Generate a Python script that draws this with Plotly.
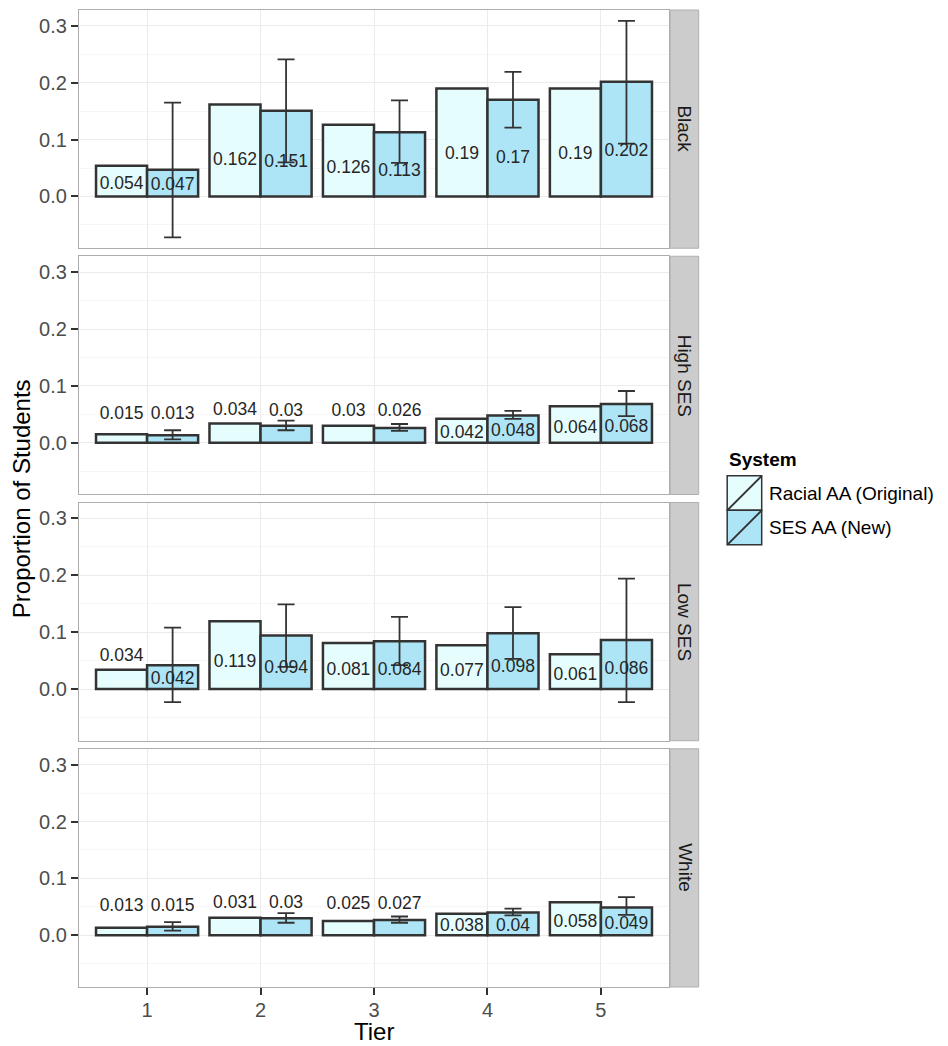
import plotly.graph_objects as go
from plotly.subplots import make_subplots

# ---------------- data ----------------
tiers = [1, 2, 3, 4, 5]
tier_labels = ["1", "2", "3", "4", "5"]
groups = ["Black", "High SES", "Low SES", "White"]
systems = ["Racial AA (Original)", "SES AA (New)"]

racial_black = [0.054, 0.162, 0.126, 0.19, 0.19]
racial_high = [0.015, 0.034, 0.03, 0.042, 0.064]
racial_low = [0.034, 0.119, 0.081, 0.077, 0.061]
racial_white = [0.013, 0.031, 0.025, 0.038, 0.058]

ses_black = [0.047, 0.151, 0.113, 0.17, 0.202]
ses_high = [0.013, 0.03, 0.026, 0.048, 0.068]
ses_low = [0.042, 0.094, 0.084, 0.098, 0.086]
ses_white = [0.015, 0.03, 0.027, 0.04, 0.049]

ses_lower_black = [-0.072, 0.060, 0.059, 0.121, 0.093]
ses_upper_black = [0.165, 0.241, 0.169, 0.219, 0.309]
ses_lower_high = [0.006, 0.022, 0.021, 0.042, 0.047]
ses_upper_high = [0.022, 0.039, 0.033, 0.056, 0.091]
ses_lower_low = [-0.023, 0.039, 0.042, 0.053, -0.023]
ses_upper_low = [0.108, 0.149, 0.127, 0.144, 0.194]
ses_lower_white = [0.008, 0.022, 0.022, 0.035, 0.036]
ses_upper_white = [0.023, 0.039, 0.033, 0.047, 0.067]

y_ticks = [0.0, 0.1, 0.2, 0.3]
y_tick_labels = ["0.0", "0.1", "0.2", "0.3"]

racial_by_group = [racial_black, racial_high, racial_low, racial_white]
ses_by_group = [ses_black, ses_high, ses_low, ses_white]
lower_by_group = [ses_lower_black, ses_lower_high, ses_lower_low, ses_lower_white]
upper_by_group = [ses_upper_black, ses_upper_high, ses_upper_low, ses_upper_white]

# ---------------- style ----------------
FONT = "Liberation Sans, Arial, Helvetica, sans-serif"
RACIAL_FILL = "#E6FDFE"
SES_FILL = "#AEE5F6"
OUTLINE = "#333333"
OFF = 8                      # page body margin
W, H = 940, 1038             # figure size so that it reaches the window edge
PLOT_L, PLOT_R, PLOT_T, PLOT_B = 79.3, 669.3, 10, 987.3   # page pixels
ML = PLOT_L - OFF
MR = W - (PLOT_R - OFF)
MT = PLOT_T - OFF
MB = H - (PLOT_B - OFF)
PW = PLOT_R - PLOT_L
PH = PLOT_B - PLOT_T
PANEL_H = 238.3
GAP = (PH - 4 * PANEL_H) / 3
BAR_W = 0.45


def label_y(v):
    # labels of short bars sit above the bar, others inside the bar
    return 0.045 + 0.35 * v if v < 0.036 else 0.39 * v


def px2x(px):
    return (px - PLOT_L) / PW


def px2y(py):
    return (PLOT_B - py) / PH


fig = make_subplots(rows=4, cols=1, shared_xaxes=True, vertical_spacing=GAP / PH)

for r, g in enumerate(groups):
    row = r + 1
    racial = racial_by_group[r]
    ses = ses_by_group[r]
    lo = lower_by_group[r]
    hi = upper_by_group[r]
    xr = [t - BAR_W / 2 for t in tiers]
    xs = [t + BAR_W / 2 for t in tiers]
    fig.add_trace(go.Bar(x=xr, y=racial, width=BAR_W, name=systems[0],
                         marker=dict(color=RACIAL_FILL, line=dict(color=OUTLINE, width=2.5)),
                         showlegend=False), row=row, col=1)
    fig.add_trace(go.Bar(x=xs, y=ses, width=BAR_W, name=systems[1],
                         marker=dict(color=SES_FILL, line=dict(color=OUTLINE, width=2.5)),
                         error_y=dict(type="data", symmetric=False,
                                      array=[h - v for h, v in zip(hi, ses)],
                                      arrayminus=[v - l for v, l in zip(ses, lo)],
                                      color=OUTLINE, thickness=1.8, width=8.5),
                         showlegend=False), row=row, col=1)
    fig.add_trace(go.Scatter(x=xr + xs, y=[label_y(v) for v in racial + ses],
                             text=[str(v) for v in racial + ses], mode="text",
                             textfont=dict(family=FONT, size=17.5, color="#262626"),
                             showlegend=False, hoverinfo="skip"), row=row, col=1)

    # domains
    top_px = PLOT_T + r * (PANEL_H + GAP)
    bot_px = top_px + PANEL_H
    yname = "yaxis" if r == 0 else f"yaxis{row}"
    fig.layout[yname].domain = [max(0, px2y(bot_px)), min(1, px2y(top_px))]
    fig.update_yaxes(range=[-0.091, 0.328], tickvals=y_ticks, ticktext=y_tick_labels,
                     ticks="outside", ticklen=7, tickwidth=1.5, tickcolor="#333333",
                     tickfont=dict(family=FONT, size=20, color="#4d4d4d"),
                     showgrid=True, gridcolor="#EBEBEB", gridwidth=1.2,
                     minor=dict(tickvals=[-0.05, 0.05, 0.15, 0.25], showgrid=True,
                                gridcolor="#F6F6F6", gridwidth=1, ticks=""),
                     showline=True, mirror=True, linecolor="#ADADAD", linewidth=1.2,
                     zeroline=False, row=row, col=1)
    fig.update_xaxes(range=[0.4, 5.6], tickvals=tiers, ticktext=tier_labels,
                     showgrid=True, gridcolor="#EBEBEB", gridwidth=1.2,
                     showline=True, mirror=True, linecolor="#ADADAD", linewidth=1.2,
                     zeroline=False, row=row, col=1)
    if row < 4:
        fig.update_xaxes(showticklabels=False, ticks="", row=row, col=1)
    else:
        fig.update_xaxes(ticks="outside", ticklen=7, tickwidth=1.5, tickcolor="#333333",
                         ticklabelstandoff=-2,
                         tickfont=dict(family=FONT, size=20, color="#4d4d4d"),
                         row=row, col=1)

    # facet strip
    fig.add_shape(type="rect", xref="paper", yref="paper",
                  x0=px2x(670.5), x1=px2x(699), y0=px2y(bot_px), y1=px2y(top_px),
                  fillcolor="#CCCCCC", line=dict(color="#B0B0B0", width=1), layer="below")
    fig.add_annotation(xref="paper", yref="paper", x=px2x(685), y=px2y((top_px + bot_px) / 2),
                       xanchor="center", yanchor="middle",
                       text=g, textangle=90, showarrow=False,
                       font=dict(family=FONT, size=19, color="#1a1a1a"))

# axis titles
fig.add_annotation(xref="paper", yref="paper", x=px2x((PLOT_L + PLOT_R) / 2), y=px2y(1032),
                   xanchor="center", yanchor="middle", text="Tier",
                   showarrow=False, font=dict(family=FONT, size=24, color="#000000"))
fig.add_annotation(xref="paper", yref="paper", x=px2x(22), y=px2y((PLOT_T + PLOT_B) / 2),
                   xanchor="center", yanchor="middle",
                   text="Proportion of Students", textangle=-90, showarrow=False,
                   font=dict(family=FONT, size=24, color="#000000"))

# legend (drawn manually to mimic ggplot keys)
fig.add_annotation(xref="paper", yref="paper", x=px2x(727), y=px2y(460), xanchor="left",
                   yanchor="middle", text="<b>System</b>", showarrow=False,
                   font=dict(family=FONT, size=19, color="#000000"))
for i, (name, fill) in enumerate(zip(systems, [RACIAL_FILL, SES_FILL])):
    y_top = 476 + i * 34.5
    y_bot = y_top + 34.5
    fig.add_shape(type="rect", xref="paper", yref="paper",
                  x0=px2x(727.5), x1=px2x(762), y0=px2y(y_bot), y1=px2y(y_top),
                  fillcolor=fill, line=dict(color=OUTLINE, width=1.5))
    fig.add_shape(type="line", xref="paper", yref="paper",
                  x0=px2x(727.5), x1=px2x(762), y0=px2y(y_bot), y1=px2y(y_top),
                  line=dict(color=OUTLINE, width=2))
    fig.add_annotation(xref="paper", yref="paper", x=px2x(767), y=px2y((y_top + y_bot) / 2),
                       xanchor="left", yanchor="middle", text=name, showarrow=False,
                       font=dict(family=FONT, size=19, color="#000000"))

fig.update_layout(width=W, height=H,
                  margin=dict(l=ML, r=MR, t=MT, b=MB, pad=0, autoexpand=False),
                  barmode="overlay", plot_bgcolor="white", paper_bgcolor="white",
                  showlegend=False, font=dict(family=FONT))

fig.write_html("out.html")
